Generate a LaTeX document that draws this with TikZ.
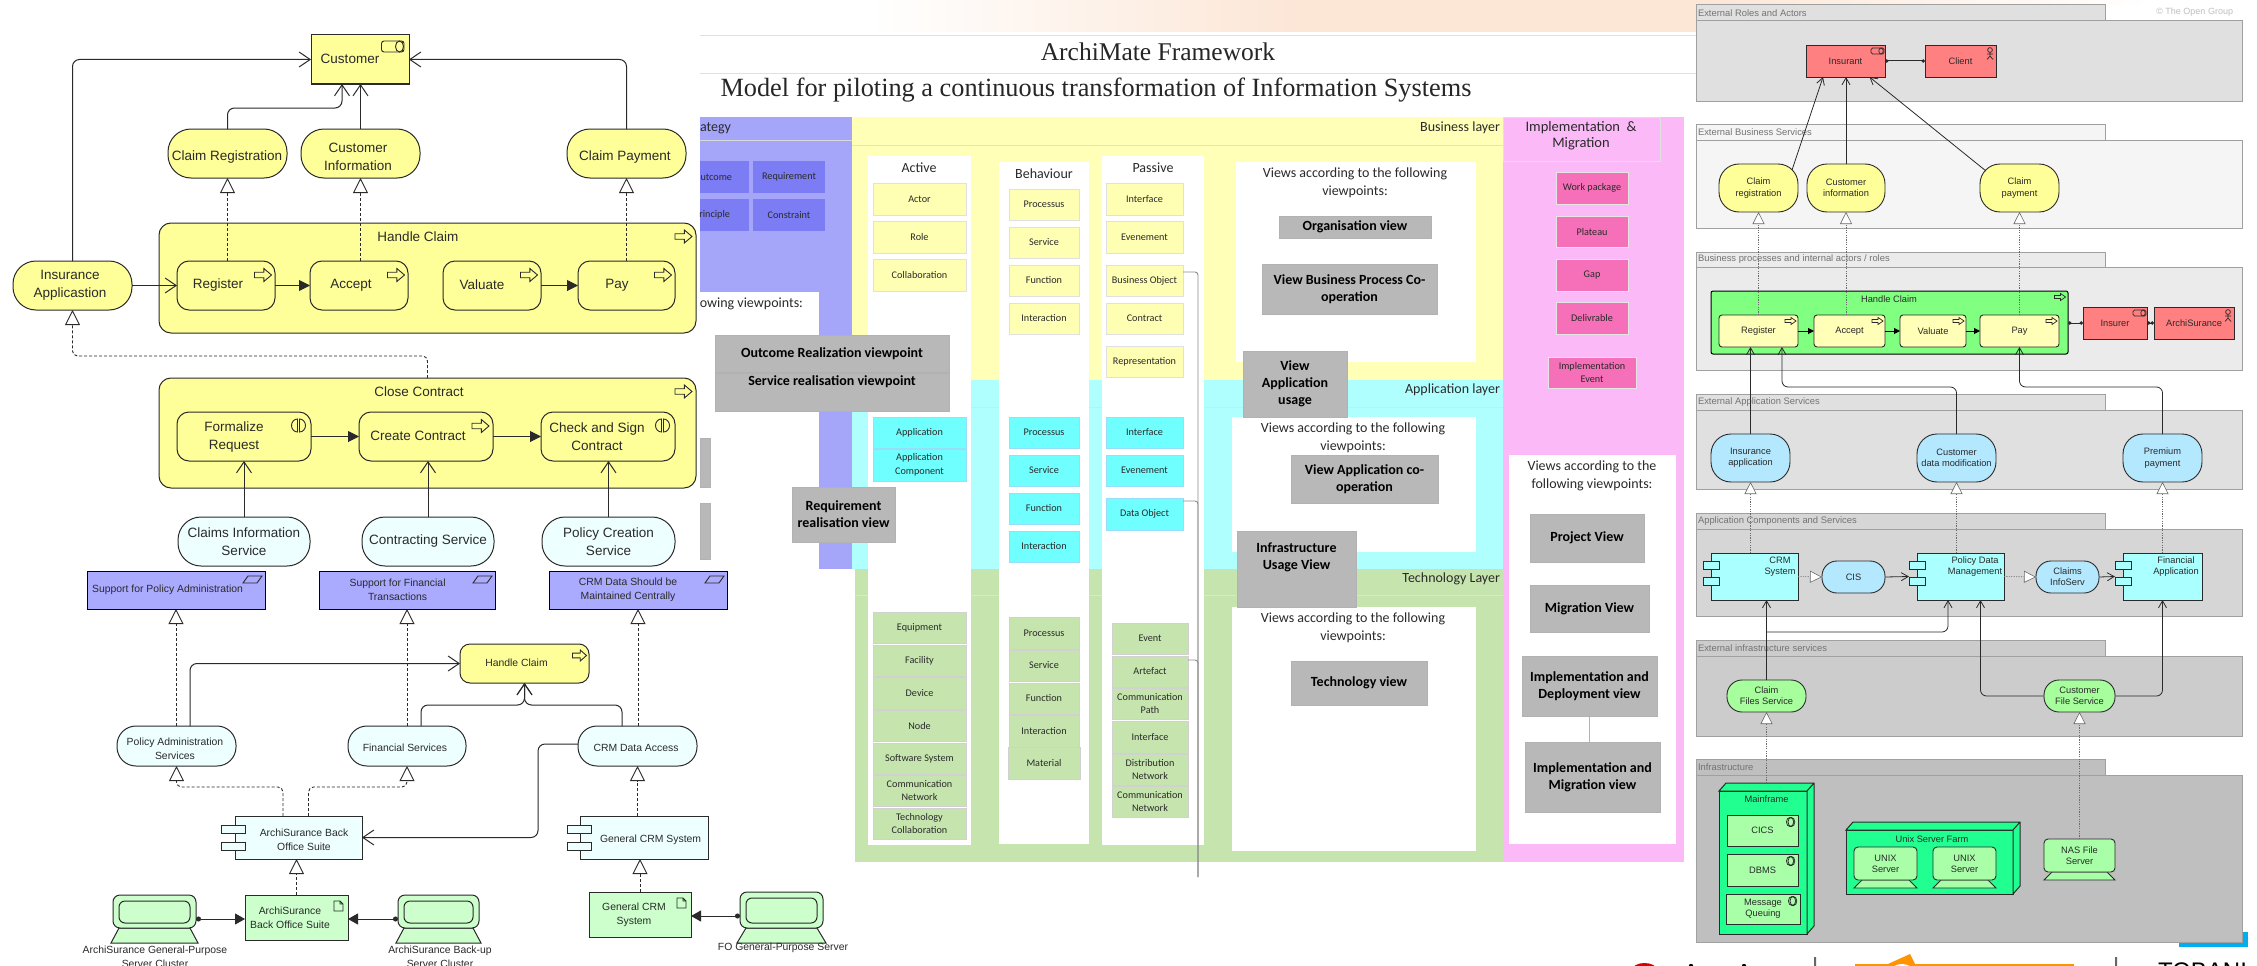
\documentclass[tikz,border=0pt]{standalone}
\usepackage{fontspec}
\setmainfont{Liberation Sans}
\newfontfamily\carl{Carlito}
\newfontfamily\tms{Liberation Serif}
\usetikzlibrary{arrows.meta,calc,shapes.misc}
\definecolor{ink}{HTML}{2A2A2A}
\definecolor{bizy}{HTML}{FFFF99}
\definecolor{appl}{HTML}{EEFFFF}
\definecolor{gool}{HTML}{AAAAFF}
\definecolor{artg}{HTML}{CCFFCC}
\definecolor{layy}{HTML}{FFFFB8}
\definecolor{layc}{HTML}{B0FFFF}
\definecolor{layg}{HTML}{C6E5AE}
\definecolor{layp}{HTML}{FBB9F8}
\definecolor{laypu}{HTML}{A5A5FA}
\definecolor{boxy}{HTML}{FFFFB4}
\definecolor{boxc}{HTML}{70FFFF}
\definecolor{boxpu}{HTML}{7C7CF4}
\definecolor{boxpk}{HTML}{F570B8}
\definecolor{viewg}{HTML}{B8B8B8}
\definecolor{peach}{HTML}{FCE6D6}
\definecolor{tabb}{HTML}{A0A0A0}
\definecolor{redr}{HTML}{FF8080}
\definecolor{bluer}{HTML}{B4E8FF}
\definecolor{cyanr}{HTML}{AAFFFF}
\definecolor{grnr}{HTML}{A6FF9C}
\definecolor{nodeg}{HTML}{20FF90}
\definecolor{subg}{HTML}{A8FFA8}
\tikzset{
  base/.style={inner sep=0pt,outer sep=0pt,align=center,text=ink},
  lf/.style={font=\fontsize{13.5}{18}\selectfont},
  sf/.style={font=\fontsize{10.4}{14.3}\selectfont},
  rf/.style={font=\fontsize{9.3}{11.3}\selectfont},
  mf/.style={font=\carl\fontsize{10.2}{13.5}\selectfont},
  vf/.style={font=\carl\fontsize{14}{18}\selectfont},
  bf/.style={font=\carl\bfseries\fontsize{14}{17}\selectfont,text=black},
  lefty/.style={base,draw=ink,line width=1pt,fill=bizy,rounded corners=12pt},
  leftsv/.style={base,draw=ink,line width=1pt,rounded corners=23pt},
  ysv/.style={leftsv,fill=bizy},
  csv/.style={leftsv,fill=appl,lf},
  goalbox/.style={base,draw=black,line width=1pt,fill=gool,chamfered rectangle,chamfered rectangle xsep=3.5pt,chamfered rectangle ysep=3.5pt},
  compbox/.style={base,draw=ink,line width=1pt,fill=appl},
  artbox/.style={base,draw=ink,line width=1pt,fill=artg},
  flow/.style={draw=ink,line width=1pt,rounded corners=7pt,-{Straight Barb[length=11pt,width=15pt]}},
  realz/.style={draw=ink,line width=.9pt,dash pattern=on 3pt off 2pt,rounded corners=5pt,-{Triangle[open,fill=white,length=15pt,width=15pt]}},
  trig/.style={draw=ink,line width=1pt,-{Triangle[length=11pt,width=11pt]}},
  assign/.style={draw=ink,line width=1pt,{Circle[length=5pt]}-{Triangle[length=10pt,width=11pt]}},
  iconl/.style={draw=ink,line width=.9pt},
  lay/.style={base,draw=none},
  layl/.style={draw=black!12,line width=.6pt},
  col/.style={base,fill=white},
  boxm/.style={base,mf,line width=.4pt},
  by/.style={boxm,fill=boxy,draw=black!12},
  bc/.style={boxm,fill=boxc,draw=cyan!40},
  bg/.style={boxm,fill=layg,draw=black!18},
  bp/.style={boxm,fill=boxpu,draw=none},
  bk/.style={boxm,fill=boxpk,draw=black!10},
  vw/.style={base,bf,fill=viewg,draw=black!30,line width=.3pt},
  whitebox/.style={base,fill=white},
  gline/.style={draw=black!45,line width=.9pt,rounded corners=3pt},
  pan/.style={base,draw=tabb,line width=1pt},
  rbox/.style={base,rf,draw=ink,line width=.9pt},
  rsv/.style={rbox,rounded corners=20pt},
  rsm/.style={rbox,rounded corners=3pt},
  rflow/.style={draw=ink,line width=.8pt,rounded corners=6pt,-{Straight Barb[length=7pt,width=8pt]}},
  rreal/.style={draw=ink!70,line width=.6pt,dash pattern=on 1.2pt off 1.2pt,-{Triangle[open,fill=white,length=12pt,width=12pt]}},
  rtrig/.style={draw=black,line width=1pt,-{Triangle[length=6pt,width=6pt]}},
  rassign/.style={draw=ink,line width=1pt,{Circle[length=3.5pt]}-{Circle[length=3.5pt]}}
}
\newcounter{tn}
\newcommand{\tx}[4]{\stepcounter{tn}\node[base,#1] (t\arabic{tn}) at (#2,#3) {#4};}
% \bx[opts]{style}{name}{x1}{y1}{x2}{y2}{text}
\newcommand{\bx}[8][]{\node[#2,minimum width={(#6-#4)*1pt},minimum height={(#7-#5)*1pt},#1] (#3) at ({(#4+#6)/2},{(#5+#7)/2}) {#8};}
\newcommand{\procicon}[6][iconl]{\draw[#1,fill=none,shift={($(#2.north east)+(#3,#4)$)}] (-#5,-.42*#6)--(.1*#5,-.42*#6)--(.1*#5,-#6)--(#5,0)--(.1*#5,#6)--(.1*#5,.42*#6)--(-#5,.42*#6)--cycle;}
\newcommand{\funcicon}[1]{\begin{scope}[shift={($(#1.north east)+(-12.5,13.5)$)}]\draw[iconl,fill=none] (-1,6.5) arc (90:270:6 and 6.5)--cycle;\draw[iconl,fill=none] (1,6.5) arc (90:-90:6 and 6.5)--cycle;\end{scope}}
\newcommand{\goalicon}[1]{\draw[iconl,shift={(#1.north east)}] (-22,12)--(-17,5)--(-3,5)--(-8,12)--cycle;}
\newcommand{\docicon}[1]{\draw[iconl,shift={(#1.north east)}] (-14,6)--(-8,6)--(-5,9)--(-5,16)--(-14,16)--cycle (-8,6)--(-8,9)--(-5,9);}
\newcommand{\tabs}[7]{\draw[draw=ink,line width=.9pt,fill=#7] (#1,#3) rectangle (#2,#4) (#1,#5) rectangle (#2,#6);}
% device: colour, name, x1 y1 x2 y2, base overhang, screen inset
\newcommand{\device}[8]{\draw[draw=ink,line width=1pt,fill=#1] ({#3+#8},#6)--({#3-#7},{#6+15})--({#5+#7},{#6+15})--({#5-#8},#6)--cycle;\bx[rounded corners=7pt,fill=#1]{base,draw=ink,line width=1pt}{#2}{#3}{#4}{#5}{#6}{}\draw[draw=ink,line width=1pt,rounded corners=6pt] ({#3+6},{#4+6}) rectangle ({#5-6},{#6-5});}
\newcommand{\rdevice}[6]{\draw[draw=ink,line width=.9pt,fill=subg] ({#3+8},#6)--({#3},{#6+8})--(#5,{#6+8})--({#5-8},#6)--cycle;\bx[rounded corners=4pt,fill=subg]{rbox}{#2}{#3}{#4}{#5}{#6}{#1}}
\newcommand{\nodebox}[5]{\bx[fill=nodeg,draw=ink,line width=1pt]{base}{#1}{#2}{#3}{#4}{#5}{}\draw[draw=ink,line width=1pt,fill=nodeg] (#1.north west)--++(7,-8)--($(#1.north east)+(7,-8)$)--($(#1.south east)+(7,-8)$)--(#1.south east)--(#1.north east)--cycle (#1.north east)--++(7,-8);}
\newcommand{\infraicon}[1]{\draw[iconl,line width=.7pt,shift={(#1.north east)}] (-8,7) ellipse (3.6 and 4.6) (-6.6,7) ellipse (3.4 and 4.6);}
% \panel{id}{fill}{tabtop}{tabbottom}{bottom}{title}
\newcommand{\panel}[6]{\bx[fill=#2]{pan}{#1tab}{1696}{#3}{2105}{#4}{}\bx[fill=#2]{pan}{#1body}{1696}{#4}{2242}{#5}{}\tx{anchor=west,font=\fontsize{9.4}{11}\selectfont,text=black!55}{1698}{{(#3+#4)/2}}{#6}}
\begin{document}
\begin{tikzpicture}[x=1pt,y=-1pt]
\path[use as bounding box] (0,0) rectangle (2257,966);
\clip (0,0) rectangle (2257,966);
\fill[white] (0,0) rectangle (2257,966);
% ---------- top band
\shade[left color=white,right color=peach] (868,0) rectangle (1300,32);
\fill[peach] (1300,0) rectangle (1696,32);
\shade[left color=peach,right color=white] (1696,0) rectangle (2150,5);
% ---------- cyan patch and bottom fragments
\fill[cyan] (2179,932) rectangle (2248,947);
\fill[red!85!black] (1632,970) arc (180:360:12.5 and 7)--cycle;
\fill[black] (1691,966) circle (2.2) (1744,966) circle (2.2);
\fill[orange!85!yellow] (1855,964) rectangle (2074,970);
\fill[orange!85!yellow] (1888,964)--(1910,954)--(1915,964)--cycle;
\fill[white] (1902,970) ellipse (10 and 6);
\fill[black!60] (1814,957) rectangle (1816,966) (2115,957) rectangle (2117,966);
\tx{anchor=west,font=\fontsize{24}{26}\selectfont,text=black}{2158}{971}{TOBANI}
% ---------- framework
\draw[draw=black!12,line width=1pt] (700,36) -- (1696,36) (700,74) -- (1696,74);
\tx{font=\tms\fontsize{25.5}{28}\selectfont,text=black!85}{1158}{52}{ArchiMate Framework}
\tx{font=\tms\fontsize{26.3}{28}\selectfont,text=black!85}{1096}{90}{Model for piloting a continuous transformation of Information Systems}
% strategy
\bx[fill=laypu]{lay}{stratbg}{700}{117}{852}{292}{}
\fill[laypu] (819,292) rectangle (852,569);
\draw[draw=black!15,line width=.6pt] (700,140) -- (852,140);
\bx{whitebox}{stratw}{700}{292}{819}{569}{}
\tx{anchor=west,vf,text=ink}{700}{128}{ategy}
\bx{bp}{soc}{700}{161}{749}{193}{}
\bx{bp}{sre}{753}{161}{825}{193}{Requirement}
\bx{bp}{spr}{700}{199}{749}{231}{}
\bx{bp}{sco}{753}{199}{825}{231}{Constraint}
\tx{anchor=east,mf}{732}{177}{utcome}
\tx{anchor=east,mf}{730}{215}{rinciple}
\tx{anchor=east,vf}{803}{304}{owing viewpoints:}
% layers
\bx[fill=layy]{lay}{lbiz}{852}{117}{1503}{380}{}
\bx[fill=layc]{lay}{lapp}{852}{380}{1503}{569}{}
\bx[fill=layg]{lay}{ltec}{855}{569}{1503}{862}{}
\bx[fill=layp]{lay}{limp}{1503}{117}{1684}{862}{}
\draw[layl] (852,145) -- (1503,145) (852,407) -- (1503,407) (855,595) -- (1503,595);
\bx[draw=black!12,line width=.5pt,fill=layp]{lay}{limph}{1503}{117}{1660}{161}{}
\tx{anchor=east,vf}{1500}{128}{Business layer}
\tx{anchor=east,vf}{1500}{390}{Application layer}
\tx{anchor=east,vf}{1500}{579}{Technology Layer}
\tx{vf,font=\carl\fontsize{14.5}{15.5}\selectfont}{1581}{135.5}{Implementation \ \&\\Migration}
% columns
\bx{col}{cact}{868}{156}{971}{845}{}
\bx{col}{cbeh}{999}{162}{1089}{844}{}
\bx{col}{cpas}{1102}{156}{1204}{845}{}
\tx{vf}{919}{168}{Active}
\tx{vf}{1044}{174}{Behaviour}
\tx{vf}{1153}{168}{Passive}
% business row
\bx{by}{ba1}{873}{183}{966}{215}{Actor}
\bx{by}{ba2}{873}{221}{966}{253}{Role}
\bx{by}{ba3}{873}{259}{966}{291}{Collaboration}
\bx{by}{bb1}{1009}{189}{1079}{220}{Processus}
\bx{by}{bb2}{1009}{227}{1079}{258}{Service}
\bx{by}{bb3}{1009}{265}{1079}{296}{Function}
\bx{by}{bb4}{1009}{303}{1079}{334}{Interaction}
\bx{by}{bp1}{1106}{183}{1183}{215}{Interface}
\bx{by}{bp2}{1106}{221}{1183}{253}{Evenement}
\bx{by}{pbo}{1106}{265}{1183}{296}{Business Object}
\bx{by}{bp4}{1106}{303}{1183}{334}{Contract}
\bx{by}{bp5}{1106}{346}{1183}{377}{Representation}
% app row
\bx{bc}{aa1}{873}{417}{966}{448}{Application}
\bx{bc}{aa2}{873}{449}{966}{481}{Application\\Component}
\bx{bc}{ab1}{1009}{417}{1079}{448}{Processus}
\bx{bc}{ab2}{1009}{455}{1079}{486}{Service}
\bx{bc}{ab3}{1009}{493}{1079}{524}{Function}
\bx{bc}{ab4}{1009}{531}{1079}{562}{Interaction}
\bx{bc}{ap1}{1106}{417}{1183}{448}{Interface}
\bx{bc}{ap2}{1106}{455}{1183}{486}{Evenement}
\bx{bc}{pdo}{1106}{498}{1183}{530}{Data Object}
% tech row
\bx{bg}{ta1}{873}{612}{966}{643}{Equipment}
\bx{bg}{ta2}{873}{645}{966}{676}{Facility}
\bx{bg}{ta3}{873}{677}{966}{709}{Device}
\bx{bg}{ta4}{873}{710}{966}{741}{Node}
\bx{bg}{ta5}{873}{743}{966}{774}{Software System}
\bx{bg}{ta6}{873}{775}{966}{806}{Communication\\Network}
\bx{bg}{ta7}{873}{808}{966}{839}{Technology\\Collaboration}
\bx{bg}{tb1}{1009}{617}{1079}{649}{Processus}
\bx{bg}{tb2}{1009}{650}{1079}{681}{Service}
\bx{bg}{tb3}{1009}{683}{1079}{714}{Function}
\bx{bg}{tb4}{1009}{715}{1079}{747}{Interaction}
\bx{bg}{tb5}{1008}{747}{1080}{779}{Material}
\bx{bg}{tp1}{1112}{623}{1188}{654}{Event}
\bx{bg}{tpa}{1112}{656}{1188}{687}{Artefact}
\bx{bg}{tp3}{1112}{688}{1188}{719}{Communication\\Path}
\bx{bg}{tp4}{1112}{721}{1188}{753}{Interface}
\bx{bg}{tp5}{1112}{754}{1188}{785}{Distribution\\Network}
\bx{bg}{tp6}{1112}{786}{1188}{817}{Communication\\Network}
\coordinate (vbot) at (1198,877);
\draw[gline] ($(pbo.north east)+(0,7)$) -| (vbot);
\draw[gline] ($(pdo.north east)+(0,3)$) -| (vbot);
\draw[gline] ($(tpa.north east)+(0,4)$) -| (vbot);
% view panels
\bx[fill=white]{base}{wbiz}{1236}{162}{1476}{362}{}
\bx[fill=white]{base}{wapp}{1232}{417}{1476}{552}{}
\bx[fill=white]{base}{wtec}{1232}{607}{1476}{851}{}
\tx{vf}{1355}{183}{Views according to the following\\viewpoints:}
\tx{vf}{1353}{438}{Views according to the following\\viewpoints:}
\tx{vf}{1353}{628}{Views according to the following\\viewpoints:}
\bx{vw}{vorg}{1279}{216}{1431}{238}{Organisation view}
\bx{vw}{vbus}{1262}{264}{1437}{314}{View Business Process Co-\\operation}
\bx{vw}{vusg}{1243}{351}{1347}{417}{View\\Application\\usage}
\bx{vw}{vcoo}{1291}{455}{1438}{503}{View Application co-\\operation}
\bx{vw}{vinf}{1237}{531}{1356}{607}{Infrastructure\\Usage View\\[8pt]}
\bx{vw}{vtec}{1291}{661}{1427}{705}{Technology view}
\bx{vw}{vout}{715}{335}{949}{372}{Outcome Realization viewpoint}
\bx{vw}{vsrv}{715}{373}{949}{411}{Service realisation viewpoint\\[6pt]}
\bx{vw}{vreq}{792}{487}{895}{542}{Requirement\\realisation view}
\bx{vw}{vsl1}{700}{438}{710}{487}{}
\bx{vw}{vsl2}{700}{503}{710}{559}{}
% implementation
\bx{bk}{iw}{1556}{172}{1628}{204}{Work package}
\bx{bk}{ip}{1556}{216}{1628}{247}{Plateau}
\bx{bk}{ig}{1556}{259}{1628}{291}{Gap}
\bx{bk}{id}{1556}{302}{1628}{334}{Delivrable}
\bx{bk}{ie}{1548}{357}{1636}{388}{Implementation\\Event}
\bx[fill=white]{base}{wimp}{1509}{455}{1676}{844}{}
\tx{vf}{1592}{476}{Views according to the\\following viewpoints:}
\bx{vw}{vpr}{1530}{514}{1644}{562}{Project View}
\bx{vw}{vmi}{1530}{585}{1649}{632}{Migration View}
\bx{vw}{vid}{1522}{656}{1657}{716}{Implementation and\\Deployment view}
\bx{vw}{vim}{1525}{742}{1660}{812}{Implementation and\\Migration view}
\draw[draw=black!30,line width=.8pt] (vid.south) -- (vid.south |- vim.north);
% ---------- LEFT: top
\bx{lefty}{hcb}{159}{223}{696}{333}{}
\bx{lefty}{ccb}{159}{378}{696}{488}{}
\bx[fill=bizy,draw=ink,line width=1pt]{base}{cust}{311}{35}{409}{84}{}
\bx{ysv}{clreg}{168}{129}{287}{178}{}
\bx{ysv}{cinfo}{301}{129}{420}{178}{}
\bx{ysv}{clpay}{567}{129}{686}{178}{}
\bx{ysv}{insapp}{13}{261}{132}{310}{}
\bx{lefty}{reg}{177}{261}{275}{310}{}
\bx{lefty}{acc}{310}{261}{408}{310}{}
\bx{lefty}{val}{443}{261}{541}{310}{}
\bx{lefty}{pay}{578}{261}{675}{310}{}
\bx{lefty}{form}{177}{412}{311}{461}{}
\bx{lefty}{crec}{359}{412}{493}{461}{}
\bx{lefty}{chk}{541}{412}{675}{461}{}
\tx{lf}{350}{59}{Customer}
\tx{lf}{227}{157}{Claim Registration}
\tx{lf}{358}{157}{Customer\\Information}
\tx{lf}{625}{157}{Claim Payment}
\tx{lf}{70}{285}{Insurance\\Applicastion}
\tx{lf}{418}{237}{Handle Claim}
\tx{lf}{218}{285}{Register}
\tx{lf}{351}{285}{Accept}
\tx{lf}{482}{285}{Valuate}
\tx{lf}{617}{285}{Pay}
\tx{lf}{419}{392}{Close Contract}
\tx{lf}{234}{437}{Formalize\\Request}
\tx{lf}{418}{436}{Create Contract}
\tx{lf}{597}{437}{Check and Sign\\Contract}
\draw[iconl,rounded corners=2.5pt] (381.5,41) rectangle (404,52);
\draw[iconl] (399.5,46.5) ellipse (4 and 5.5);
\procicon{hcb}{-12.5}{13.5}{8.5}{6.5}
\procicon{ccb}{-12.5}{13.5}{8.5}{6.5}
\procicon{reg}{-12}{14}{8.5}{6.5}
\procicon{acc}{-12}{14}{8.5}{6.5}
\procicon{val}{-12}{14}{8.5}{6.5}
\procicon{pay}{-12}{14}{8.5}{6.5}
\procicon{crec}{-12.5}{14}{8.5}{6.5}
\funcicon{form}
\funcicon{chk}
% ---------- LEFT: bottom
\bx{csv}{cis}{178}{517}{310}{566}{Claims Information\\Service}
\bx{csv}{cts}{362}{517}{494}{566}{Contracting Service}
\bx{csv}{pcs}{542}{517}{675}{566}{Policy Creation\\Service}
\bx{goalbox}{g1}{87}{571}{265}{609}{}
\bx{goalbox}{g2}{319}{571}{495}{609}{}
\bx{goalbox}{g3}{549}{571}{727}{609}{}
\tx{sf}{167.6}{590}{Support for Policy Administration}
\tx{sf}{397.6}{590}{Support for Financial\\Transactions}
\tx{sf}{628}{590}{CRM Data Should be\\Maintained Centrally}
\goalicon{g1}\goalicon{g2}\goalicon{g3}
\bx[rounded corners=10pt]{lefty}{hcs}{460}{644}{589}{683}{}
\tx{sf}{516.5}{663}{Handle Claim}
\procicon{hcs}{-9.5}{11.5}{7}{5.5}
\bx[rounded corners=19pt]{csv}{pas}{117}{726}{236}{766}{}
\bx[rounded corners=19pt]{csv}{fsv}{348}{726}{466}{766}{}
\bx[rounded corners=19pt]{csv}{crm}{578}{726}{697}{766}{}
\tx{sf}{175}{749}{Policy Administration\\Services}
\tx{sf}{405}{748}{Financial Services}
\tx{sf}{636}{748}{CRM Data Access}
\bx{compbox}{bo}{235}{816}{362}{859}{}
\bx{compbox}{gc}{580}{816}{708}{859}{}
\tabs{221}{245}{825}{833}{842}{850}{appl}
\tabs{567}{591}{825}{833}{842}{850}{appl}
\tx{sf}{304}{840}{ArchiSurance Back\\Office Suite}
\tx{sf}{650.6}{840}{General CRM System}
\bx{artbox}{ab}{245}{895}{348}{940}{}
\bx{artbox}{ga}{589}{892}{691}{937}{}
\tx{sf}{290}{917.5}{ArchiSurance\\Back Office Suite}
\tx{sf}{634}{914.5}{General CRM\\System}
\docicon{ab}\docicon{ga}
\device{artg}{d1}{113}{895}{196}{928}{2}{6}
\device{artg}{d2}{398}{895}{479}{928}{2}{6}
\device{artg}{d3}{740}{892}{823}{928}{3}{6}
\tx{sf}{155}{956.5}{ArchiSurance General-Purpose\\Server Cluster}
\tx{sf}{440}{956.5}{ArchiSurance Back-up\\Server Cluster}
\tx{sf}{783}{948}{FO General-Purpose Server}
% connectors left
\draw[flow] (insapp.north) |- (cust.west);
\draw[flow] (clpay.north) |- (cust.east);
\draw[flow] (clreg.north) |- ($(cust.south)+(-18,24)$) -- ($(cust.south)+(-18,0)$);
\draw[flow] (cinfo.north) -- (cinfo.north |- cust.south);
\draw[flow] (insapp.east) -- (reg.west);
\draw[realz] (clreg.south |- reg.north) -- (clreg.south);
\draw[realz] (cinfo.south |- acc.north) -- (cinfo.south);
\draw[realz] (clpay.south |- pay.north) -- (clpay.south);
\draw[realz] (ccb.north) |- ($(insapp.south)+(0,46)$) -- (insapp.south);
\draw[trig] (reg.east) -- (acc.west);
\draw[trig] (val.east) -- (pay.west);
\draw[trig] (form.east) -- (crec.west);
\draw[trig] (crec.east) -- (chk.west);
\draw[flow] (cis.north) -- (cis.north |- form.south);
\draw[flow] (cts.north) -- (cts.north |- crec.south);
\draw[flow] (pcs.north) -- (pcs.north |- chk.south);
\draw[realz] (g1.south |- pas.north) -- (g1.south);
\draw[realz] (g2.south |- fsv.north) -- (g2.south);
\draw[realz] (g3.south |- crm.north) -- (g3.south);
\draw[flow] ($(pas.north)+(13.5,0)$) |- (hcs.west);
\draw[flow] ($(fsv.north)+(14,0)$) |- ($(hcs.south)+(0,22)$) -- (hcs.south);
\draw[flow] ($(crm.north)+(-15.5,0)$) |- ($(hcs.south)+(0,22)$) -- (hcs.south);
\draw[flow] ($(crm.west)+(0,-2)$) -| ($(bo.east)+(176,0)$) -- (bo.east);
\draw[realz] ($(bo.north)+(-15.5,0)$) |- ($(pas.south)+(0,21)$) -- (pas.south);
\draw[realz] ($(bo.north)+(10,0)$) |- ($(fsv.south)+(0,21)$) -- (fsv.south);
\draw[realz] (crm.south |- gc.north) -- (crm.south);
\draw[realz] (ab.north) -- (ab.north |- bo.south);
\draw[realz] (ga.north) -- (ga.north |- gc.south);
\draw[assign] ($(d1.east)+(0,7.5)$) -- ($(ab.west)+(0,1.5)$);
\draw[assign] ($(d2.west)+(0,7.5)$) -- ($(ab.east)+(0,1.5)$);
\draw[assign] ($(d3.west)+(0,6)$) -- ($(ga.east)+(0,1.5)$);
% ---------- RIGHT panels
\panel{pra}{black!12}{5}{21}{101}{External Roles and Actors}
\panel{pbs}{black!4}{124}{140}{228}{External Business Services}
\panel{pbp}{black!8}{252}{267}{370}{Business processes and internal actors / roles}
\panel{pas1}{black!12}{394}{410}{489}{External Application Services}
\panel{pac}{black!16}{513}{529}{616}{Application Components and Services}
\panel{pis}{black!20}{640}{656}{736}{External infrastructure services}
\panel{pin}{black!25}{759}{775}{942}{Infrastructure}
\tx{anchor=east,font=\fontsize{9}{11}\selectfont,text=black!25}{2233}{12}{© The Open Group}
\bx[fill=redr]{rbox}{ins}{1806}{45}{1885}{77}{Insurant}
\bx[fill=redr]{rbox}{cli}{1925}{45}{1996}{77}{Client}
\bx[fill=bizy]{rsv}{rcr}{1719}{164}{1798}{212}{Claim\\registration}
\bx[fill=bizy]{rsv}{rci}{1807}{164}{1885}{212}{Customer\\information}
\bx[fill=bizy]{rsv}{rcp}{1980}{164}{2059}{212}{Claim\\payment}
\bx[draw=black,line width=1pt,fill=green!50!white,rounded corners=2pt]{base,rf}{rhc}{1711}{291}{2068}{354}{}
\tx{rf}{1889}{299.5}{Handle Claim}
\bx[fill=bizy!70!white]{rsm}{rreg}{1719}{315}{1798}{347}{Register}
\bx[fill=bizy!70!white]{rsm}{racc}{1814}{315}{1885}{347}{Accept}
\bx[fill=bizy!70!white]{rsm}{rval}{1900}{315}{1966}{347}{Valuate}
\bx[fill=bizy!70!white]{rsm}{rpay}{1980}{315}{2059}{347}{Pay}
\bx[fill=redr]{rbox}{rinr}{2083}{307}{2147}{339}{Insurer}
\bx[fill=redr]{rbox}{rarc}{2154}{307}{2234}{339}{ArchiSurance}
\bx[fill=bluer]{rsv}{rins}{1711}{434}{1790}{482}{Insurance\\application}
\bx[fill=bluer]{rsv}{rcd}{1917}{434}{1996}{482}{Customer\\data modification}
\bx[fill=bluer]{rsv}{rpr}{2123}{434}{2202}{482}{Premium\\payment}
\bx[fill=cyanr]{rbox}{rcrm}{1711}{553}{1798}{600}{}
\bx[fill=cyanr]{rbox}{rpd}{1917}{553}{2004}{600}{}
\bx[fill=cyanr]{rbox}{rfin}{2123}{553}{2202}{600}{}
\tabs{1703.5}{1719}{561}{569}{577}{585}{cyanr}
\tabs{1909}{1925}{561}{569}{577}{585}{cyanr}
\tabs{2115}{2131}{561}{569}{577}{585}{cyanr}
\tx{rf}{1780}{566.5}{CRM\\System}
\tx{rf}{1975}{566.5}{Policy Data\\Management}
\tx{rf}{2176}{566.5}{Financial\\Application}
\bx[fill=bluer,rounded corners=15pt]{rbox}{rcis}{1822}{561}{1885}{593}{CIS}
\bx[fill=bluer,rounded corners=15pt]{rbox}{rclm}{2036}{561}{2099}{593}{Claims\\InfoServ}
\bx[fill=grnr,rounded corners=15pt]{rbox}{rcf}{1727}{680}{1806}{712}{Claim\\Files Service}
\bx[fill=grnr,rounded corners=15pt]{rbox}{rfs}{2044}{680}{2115}{712}{Customer\\File Service}
\nodebox{mf}{1719}{791}{1807}{934}
\tx{rf}{1766.5}{799}{Mainframe}
\bx[fill=subg]{rbox}{cics}{1727}{815}{1798}{846}{CICS}
\bx[fill=subg]{rbox}{dbms}{1727}{854}{1798}{886}{DBMS}
\bx[fill=subg]{rbox}{msgq}{1726}{894}{1800}{924}{Message\\Queuing}
\infraicon{cics}\infraicon{dbms}\infraicon{msgq}
\nodebox{uf}{1846}{830}{2013}{894}
\tx{rf}{1932}{839}{Unix Server Farm}
\rdevice{UNIX\\Server}{ux1}{1854}{847}{1917}{880}
\rdevice{UNIX\\Server}{ux2}{1933}{847}{1996}{880}
\rdevice{NAS File\\Server}{rnas}{2044}{839}{2115}{872}
% icons right
\draw[iconl,line width=.7pt,rounded corners=1.5pt,shift={(ins.north east)}] (-14,3) rectangle (-1,9);
\draw[iconl,line width=.7pt,shift={(ins.north east)}] (-4,6) ellipse (2.2 and 3);
\draw[iconl,line width=.7pt,rounded corners=1.5pt,shift={(rinr.north east)}] (-14,3) rectangle (-1,9);
\draw[iconl,line width=.7pt,shift={(rinr.north east)}] (-4,6) ellipse (2.2 and 3);
\foreach \a in {cli,rarc}{
\draw[iconl,line width=.7pt,shift={(\a.north east)}] (-6,5) circle (2.4) (-6,7.4)--(-6,11) (-9,9)--(-3,9) (-9,14.5)--(-6,11)--(-3,14.5);}
\foreach \a in {rreg,racc,rval,rpay}{\procicon[iconl,line width=.7pt]{\a}{-7.5}{6}{5.5}{3.5}}
\procicon[iconl,line width=.7pt]{rhc}{-8}{6}{5.5}{3.5}
% connectors right
\draw[rflow] ($(rcr.north east)+(-6,6)$) -- ($(ins.south west)+(17,0)$);
\draw[rflow] (rci.north) -- (rci.north |- ins.south);
\draw[rflow] ($(rcp.north west)+(6,7)$) -- ($(ins.south east)+(-15.5,0)$);
\draw[rassign] (ins.east) -- (cli.west);
\draw[rassign] (rhc.east |- rinr.west) -- (rinr.west);
\draw[rassign] (rinr.east) -- (rarc.west);
\draw[rreal] (rreg.north) -- (rcr.south);
\draw[rreal] (rci.south |- racc.north) -- (rci.south);
\draw[rreal] (rpay.north) -- (rcp.south);
\draw[rtrig] (rreg.east) -- (racc.west);
\draw[rtrig] (racc.east) -- (rval.west);
\draw[rtrig] (rval.east) -- (rpay.west);
\draw[rflow] (rins.north) -- (rins.north |- rreg.south);
\draw[rflow] (rcd.north) |- ($(rreg.south)+(23.5,40)$) -- ($(rreg.south)+(23.5,0)$);
\draw[rflow] (rpr.north) |- ($(rpay.south)+(0,40)$) -- (rpay.south);
\draw[rreal] (rins.south |- rcrm.north) -- (rins.south);
\draw[rreal] (rcd.south |- rpd.north) -- (rcd.south);
\draw[rreal] (rpr.south |- rfin.north) -- (rpr.south);
\draw[rreal] (rcrm.east) -- (rcis.west);
\draw[rreal] (rpd.east) -- (rclm.west);
\draw[rflow] (rcis.east) -- ($(rpd.west)+(-8,0)$);
\draw[rflow] (rclm.east) -- ($(rfin.west)+(-8,0)$);
\draw[rflow] (rcf.north) -- (rcf.north |- rcrm.south);
\draw[rflow] ($(rcrm.south -| rcf.north)+(0,32)$) -| ($(rpd.south)+(-12.5,0)$);
\draw[rflow] (rfs.west) -| ($(rpd.south)+(20,0)$);
\draw[rflow] (rfs.east) -| (rfin.south);
\draw[rreal] ($(mf.north -| rcf.south)+(0,-8)$) -- (rcf.south);
\draw[rreal] (rnas.north) -- (rfs.south);
\end{tikzpicture}
\end{document}
